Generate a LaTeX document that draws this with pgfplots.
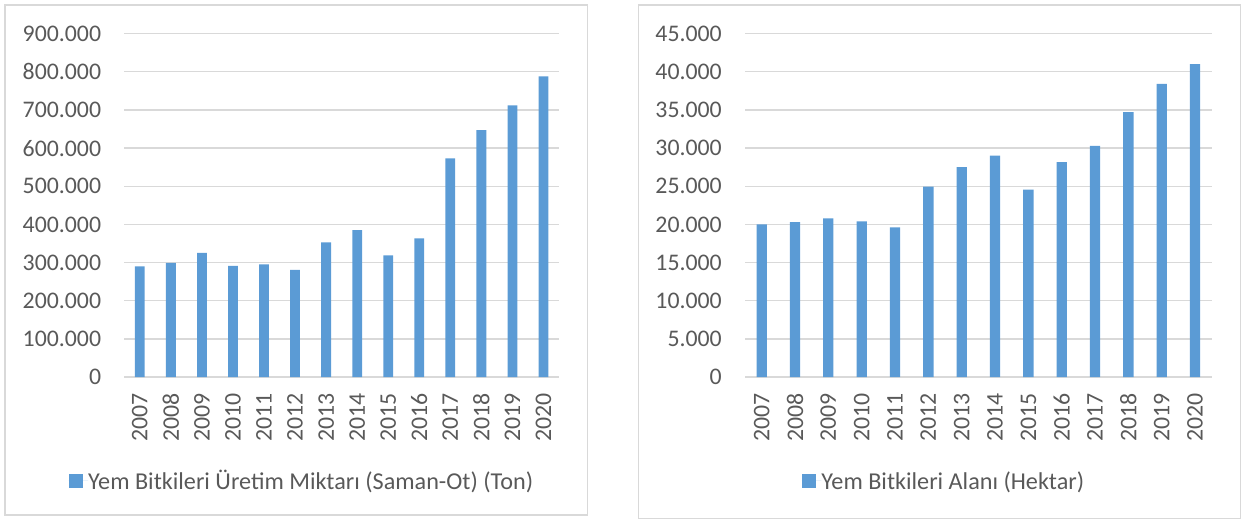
\documentclass[border=0pt]{standalone}
\usepackage{pgfplots}
\pgfplotsset{compat=1.18}
\usepackage{fontspec}
\setmainfont{Carlito}
\definecolor{barblue}{HTML}{5B9BD5}
\definecolor{gridgray}{HTML}{D9D9D9}
\definecolor{txtgray}{HTML}{595959}
\pgfplotsset{
  excelbar/.style={
    scale only axis,
    anchor=south west,
    height=343.4pt,
    ymin=0,
    xmin=-0.5, xmax=13.5,
    xtick={0,...,13},
    xticklabels={2007,2008,2009,2010,2011,2012,2013,2014,2015,2016,2017,2018,2019,2020},
    scaled y ticks=false,
    axis line style={draw=none},
    tick style={draw=none},
    major tick length=0pt,
    ymajorgrids,
    major grid style={draw=gridgray, line width=1.4pt},
    tick label style={font=\fontsize{23.8}{28}\selectfont, text=txtgray},
    xticklabel style={rotate=90, anchor=east, inner sep=0pt},
    yticklabel style={anchor=east, inner sep=0pt},
    xticklabel shift=16pt,
    yticklabel shift=23pt,
    legend style={draw=none, fill=none, font=\fontsize{24.2}{28}\selectfont, text=txtgray,
      anchor=center, nodes={inner sep=0pt}},
    legend image code/.code={\fill[barblue] (0pt,-7pt) rectangle (14pt,7pt); \path (0pt,0pt) -- (19.5pt,0pt);},
  }
}
\begin{document}
\begin{tikzpicture}
\useasboundingbox (0,0) rectangle (1243pt,520pt);
\draw[gridgray, line width=1.5pt] (5pt,5pt) rectangle (587.3pt,515pt);
\draw[gridgray, line width=1.5pt] (638.3pt,1.5pt) rectangle (1240.7pt,515pt);
\begin{axis}[excelbar,
  at={(124.3pt,143pt)},
  width=434.7pt,
  ymax=900000,
  ytick={0,100000,200000,300000,400000,500000,600000,700000,800000,900000},
  yticklabels={0,100.000,200.000,300.000,400.000,500.000,600.000,700.000,800.000,900.000},
  legend style={at={(0.4063,-0.3028)}},
]
\addplot[ybar, bar width=9.8pt, fill=barblue, draw=none] coordinates {
(0,290000) (1,299000) (2,325000) (3,291000) (4,295000) (5,281000) (6,353000)
(7,385000) (8,319000) (9,363000) (10,573000) (11,647000) (12,712000) (13,788000)};
\addlegendentry{Yem Bitkileri Üretim Miktarı (Saman-Ot) (Ton)}
\end{axis}
\begin{axis}[excelbar,
  at={(745pt,143pt)},
  width=466.7pt,
  ymax=45000,
  ytick={0,5000,10000,15000,20000,25000,30000,35000,40000,45000},
  yticklabels={0,5.000,10.000,15.000,20.000,25.000,30.000,35.000,40.000,45.000},
  legend style={at={(0.4243,-0.3028)}},
]
\addplot[ybar, bar width=10.3pt, fill=barblue, draw=none] coordinates {
(0,20000) (1,20300) (2,20800) (3,20400) (4,19600) (5,24950) (6,27500)
(7,29000) (8,24550) (9,28150) (10,30300) (11,34700) (12,38400) (13,41000)};
\addlegendentry{Yem Bitkileri Alanı (Hektar)}
\end{axis}
\end{tikzpicture}
\end{document}
